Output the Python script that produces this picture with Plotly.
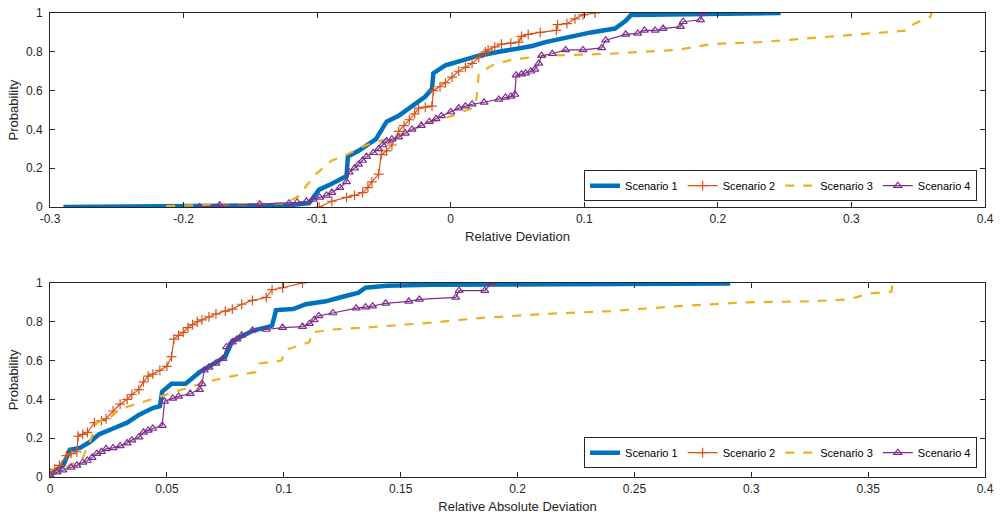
import plotly.graph_objects as go
from plotly.subplots import make_subplots

names = ["Scenario 1", "Scenario 2", "Scenario 3", "Scenario 4"]
colors = ["#0072BD", "#D95319", "#EDB120", "#7E2F8E"]

# ---- Top panel: Relative Deviation ----
rd1_x = [-0.29, -0.20, -0.12, -0.106, -0.0985, -0.089, -0.078, -0.077, -0.069, -0.056, -0.048, -0.039, -0.029,
         -0.019, -0.014, -0.013, -0.004, 0.006, 0.021, 0.036, 0.046, 0.061, 0.071, 0.090, 0.105, 0.123, 0.131,
         0.135, 0.20, 0.247]
rd1_y = [0.0, 0.005, 0.01, 0.02, 0.09, 0.12, 0.16, 0.26, 0.29, 0.35, 0.44, 0.47, 0.52,
         0.57, 0.61, 0.69, 0.73, 0.75, 0.78, 0.80, 0.81, 0.83, 0.85, 0.88, 0.90, 0.92, 0.96,
         0.99, 0.995, 1.0]

rd2_x = [-0.0985, -0.089, -0.078, -0.072, -0.066, -0.062, -0.059, -0.054, -0.052, -0.048, -0.044, -0.039,
         -0.035, -0.031, -0.027, -0.024, -0.019, -0.014, -0.013, -0.008, -0.004, 0.001, 0.006, 0.011,
         0.016, 0.021, 0.026, 0.028, 0.033, 0.038, 0.045, 0.051, 0.053, 0.058, 0.067, 0.079, 0.080,
         0.087, 0.093, 0.099, 0.108]
rd2_y = [0.0, 0.03, 0.05, 0.06, 0.075, 0.10, 0.13, 0.17, 0.27, 0.29, 0.32, 0.39,
         0.42, 0.45, 0.48, 0.51, 0.515, 0.52, 0.60, 0.62, 0.64, 0.67, 0.70, 0.72,
         0.74, 0.77, 0.80, 0.81, 0.825, 0.84, 0.845, 0.85, 0.88, 0.89, 0.90, 0.91, 0.94,
         0.945, 0.97, 0.99, 1.0]

rd3_x = [-0.213, -0.123, -0.113, -0.108, -0.101, -0.089, -0.078, -0.063, -0.039, -0.014, 0.001, 0.016,
         0.019, 0.021, 0.031, 0.046, 0.071, 0.119, 0.170, 0.195, 0.232, 0.269, 0.307, 0.342, 0.347, 0.359, 0.36]
rd3_y = [0.005, 0.02, 0.06, 0.11, 0.17, 0.24, 0.27, 0.32, 0.37, 0.44, 0.47, 0.51,
         0.54, 0.69, 0.73, 0.76, 0.78, 0.79, 0.81, 0.84, 0.85, 0.87, 0.89, 0.91, 0.945, 0.98, 1.0]

rd4_x = [-0.188, -0.173, -0.143, -0.121, -0.115, -0.108, -0.103, -0.098, -0.093, -0.089, -0.083, -0.078,
         -0.076, -0.072, -0.069, -0.066, -0.063, -0.058, -0.054, -0.051, -0.048, -0.044, -0.039, -0.034,
         -0.029, -0.022, -0.016, -0.011, -0.007, 0.0, 0.006, 0.011, 0.016, 0.025, 0.036, 0.041, 0.045,
         0.048, 0.049, 0.053, 0.056, 0.060, 0.063, 0.066, 0.068, 0.076, 0.086, 0.099, 0.113, 0.116, 0.131,
         0.140, 0.145, 0.153, 0.159, 0.172, 0.174, 0.187, 0.189]
rd4_y = [0.0, 0.01, 0.015, 0.02, 0.025, 0.03, 0.04, 0.05, 0.06, 0.075, 0.10, 0.13,
         0.18, 0.20, 0.22, 0.24, 0.26, 0.28, 0.30, 0.32, 0.34, 0.35, 0.36, 0.38,
         0.40, 0.42, 0.44, 0.455, 0.47, 0.49, 0.51, 0.52, 0.53, 0.54, 0.555, 0.565, 0.57,
         0.58, 0.68, 0.685, 0.69, 0.70, 0.71, 0.74, 0.78, 0.79, 0.81, 0.81, 0.82, 0.86, 0.89,
         0.895, 0.91, 0.91, 0.92, 0.93, 0.955, 0.965, 1.0]

# ---- Bottom panel: Relative Absolute Deviation ----
ra1_x = [0.0, 0.0057, 0.0085, 0.0128, 0.017, 0.021, 0.027, 0.033, 0.038, 0.044, 0.047, 0.048, 0.052,
         0.058, 0.064, 0.070, 0.075, 0.078, 0.081, 0.087, 0.0925, 0.095, 0.0967, 0.104, 0.1095, 0.118,
         0.124, 0.132, 0.135, 0.144, 0.163, 0.22, 0.291]
ra1_y = [0.01, 0.06, 0.14, 0.15, 0.18, 0.22, 0.25, 0.28, 0.32, 0.355, 0.365, 0.44, 0.48,
         0.48, 0.54, 0.585, 0.62, 0.70, 0.72, 0.755, 0.77, 0.78, 0.86, 0.865, 0.89, 0.905,
         0.925, 0.95, 0.975, 0.985, 0.99, 0.995, 0.997]

ra2_x = [0.0, 0.002, 0.004, 0.007, 0.009, 0.0115, 0.012, 0.014, 0.016, 0.019, 0.022, 0.024, 0.027,
         0.030, 0.033, 0.035, 0.038, 0.040, 0.042, 0.044, 0.047, 0.050, 0.052, 0.053, 0.055, 0.057,
         0.059, 0.061, 0.063, 0.065, 0.068, 0.071, 0.075, 0.078, 0.082, 0.0866, 0.0925, 0.095, 0.0995, 0.108]
ra2_y = [0.02, 0.04, 0.06, 0.11, 0.12, 0.13, 0.21, 0.22, 0.23, 0.28, 0.29, 0.30, 0.34,
         0.375, 0.40, 0.425, 0.45, 0.49, 0.52, 0.53, 0.55, 0.57, 0.62, 0.71, 0.73, 0.745,
         0.77, 0.785, 0.80, 0.81, 0.825, 0.84, 0.855, 0.865, 0.89, 0.91, 0.925, 0.965, 0.975, 1.0]

ra3_x = [0.0, 0.0085, 0.014, 0.017, 0.020, 0.0256, 0.030, 0.038, 0.047, 0.058, 0.067, 0.078, 0.088,
         0.0896, 0.099, 0.101, 0.111, 0.112, 0.121, 0.135, 0.163, 0.185, 0.212, 0.240, 0.269, 0.297,
         0.325, 0.342, 0.350, 0.360, 0.3605]
ra3_y = [0.01, 0.06, 0.10, 0.18, 0.28, 0.305, 0.35, 0.38, 0.415, 0.455, 0.49, 0.52, 0.54,
         0.585, 0.60, 0.655, 0.695, 0.745, 0.76, 0.77, 0.795, 0.82, 0.84, 0.855, 0.88, 0.90,
         0.905, 0.915, 0.945, 0.955, 1.0]

ra4_x = [0.0, 0.003, 0.0055, 0.009, 0.0115, 0.014, 0.016, 0.018, 0.020, 0.022, 0.024, 0.027, 0.030,
         0.033, 0.035, 0.038, 0.040, 0.042, 0.044, 0.048, 0.049, 0.0525, 0.055, 0.060, 0.064, 0.065,
         0.066, 0.068, 0.071, 0.074, 0.0755, 0.078, 0.080, 0.082, 0.0866, 0.0925, 0.0995, 0.108, 0.111,
         0.113, 0.115, 0.121, 0.131, 0.135, 0.138, 0.1436, 0.1535, 0.158, 0.1736, 0.175, 0.186, 0.189]
ra4_y = [0.01, 0.025, 0.035, 0.05, 0.06, 0.075, 0.085, 0.10, 0.12, 0.13, 0.145, 0.15, 0.16,
         0.175, 0.19, 0.205, 0.23, 0.24, 0.25, 0.265, 0.39, 0.405, 0.415, 0.43, 0.45, 0.48,
         0.55, 0.565, 0.585, 0.61, 0.67, 0.695, 0.71, 0.73, 0.755, 0.76, 0.77, 0.775, 0.79,
         0.81, 0.83, 0.845, 0.87, 0.875, 0.88, 0.895, 0.905, 0.915, 0.925, 0.96, 0.96, 1.0]

top_xticks = [-0.3, -0.2, -0.1, 0, 0.1, 0.2, 0.3, 0.4]
top_xtext = ["-0.3", "-0.2", "-0.1", "0", "0.1", "0.2", "0.3", "0.4"]
bot_xticks = [0, 0.05, 0.1, 0.15, 0.2, 0.25, 0.3, 0.35, 0.4]
bot_xtext = ["0", "0.05", "0.1", "0.15", "0.2", "0.25", "0.3", "0.35", "0.4"]
yticks = [0, 0.2, 0.4, 0.6, 0.8, 1]
ytext = ["0", "0.2", "0.4", "0.6", "0.8", "1"]

FONT = "Liberation Sans, Arial, Helvetica, sans-serif"
TXT = "#262626"

fig = make_subplots(rows=2, cols=1, vertical_spacing=0.1634)

def add_series(xs, ys, row, legend):
    styles = [
        dict(mode="lines", line=dict(color=colors[0], width=4.5)),
        dict(mode="lines+markers", line=dict(color=colors[1], width=1.2),
             marker=dict(symbol="cross-thin", size=7, line=dict(color=colors[1], width=1.2))),
        dict(mode="lines", line=dict(color=colors[2], width=2.2, dash="dash")),
        dict(mode="lines+markers", line=dict(color=colors[3], width=1.2),
             marker=dict(symbol="triangle-up-open", size=7, line=dict(color=colors[3], width=1.2))),
    ]
    for i in range(4):
        fig.add_trace(go.Scatter(x=xs[i], y=ys[i], name=names[i], legend=legend,
                                 showlegend=True, **styles[i]), row=row, col=1)

add_series([rd1_x, rd2_x, rd3_x, rd4_x], [rd1_y, rd2_y, rd3_y, rd4_y], 1, "legend")
add_series([ra1_x, ra2_x, ra3_x, ra4_x], [ra1_y, ra2_y, ra3_y, ra4_y], 2, "legend2")

axis_common = dict(showline=True, linecolor=TXT, linewidth=1, mirror="ticks", ticks="inside",
                   ticklen=5, tickcolor=TXT, showgrid=False, zeroline=False,
                   tickfont=dict(family=FONT, size=12, color=TXT))

fig.update_xaxes(range=[-0.3, 0.4], tickvals=top_xticks, ticktext=top_xtext, ticklabelstandoff=1,
                 title=dict(text="Relative Deviation", standoff=6, font=dict(family=FONT, size=13, color=TXT)),
                 row=1, col=1, **axis_common)
fig.update_xaxes(range=[0, 0.4], tickvals=bot_xticks, ticktext=bot_xtext, ticklabelstandoff=1,
                 title=dict(text="Relative Absolute Deviation", standoff=6, font=dict(family=FONT, size=13, color=TXT)),
                 row=2, col=1, **axis_common)
fig.update_yaxes(range=[0, 1], tickvals=yticks, ticktext=ytext, ticklabelstandoff=4,
                 title=dict(text="Probability", standoff=4, font=dict(family=FONT, size=13, color=TXT)),
                 **axis_common)

legend_common = dict(orientation="h", xanchor="right", yanchor="bottom", bgcolor="white",
                     bordercolor=TXT, borderwidth=1, itemwidth=30, tracegroupgap=0,
                     font=dict(family=FONT, size=11, color="#000000"))

fig.update_layout(
    width=1000, height=525,
    margin=dict(l=50, r=12, t=6, b=48),
    paper_bgcolor="white", plot_bgcolor="white",
    font=dict(family=FONT, color=TXT),
    legend=dict(x=0.9915, y=0.5945, **legend_common),
    legend2=dict(x=0.9915, y=0.019, **legend_common),
)
fig.update_yaxes(domain=[0.5817, 1.0], row=1, col=1)
fig.update_yaxes(domain=[0.0, 0.4183], row=2, col=1)

fig.write_html("out.html")
